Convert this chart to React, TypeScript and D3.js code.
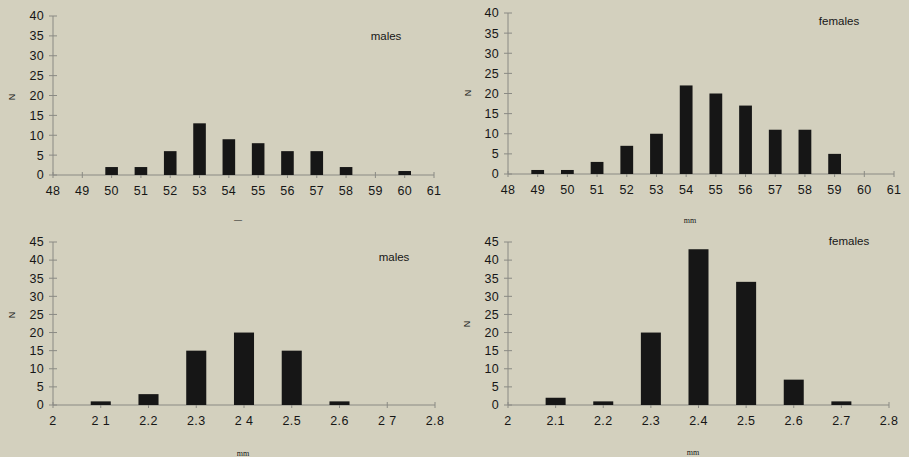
import * as d3 from 'd3';

// forearm length (mm) histograms
const lenTicks = [48, 49, 50, 51, 52, 53, 54, 55, 56, 57, 58, 59, 60, 61];
const lenMalesX = [50, 51, 52, 53, 54, 55, 56, 57, 58, 60];
const lenMalesN = [2, 2, 6, 13, 9, 8, 6, 6, 2, 1];
const lenFemalesX = [49, 50, 51, 52, 53, 54, 55, 56, 57, 58, 59];
const lenFemalesN = [1, 1, 3, 7, 10, 22, 20, 17, 11, 11, 5];

// second measurement (mm)
const smallTicks = [2, 2.1, 2.2, 2.3, 2.4, 2.5, 2.6, 2.7, 2.8];
const smallTickLabels = ['2', '2 1', '2.2', '2.3', '2 4', '2.5', '2.6', '2 7', '2.8'];
const smallTickLabelsF = ['2', '2.1', '2.2', '2.3', '2.4', '2.5', '2.6', '2.7', '2.8'];
const smallMalesX = [2.1, 2.2, 2.3, 2.4, 2.5, 2.6];
const smallMalesN = [1, 3, 15, 20, 15, 1];
const smallFemalesX = [2.1, 2.2, 2.3, 2.4, 2.5, 2.6, 2.7];
const smallFemalesN = [2, 1, 20, 43, 34, 7, 1];

const BG = '#d3d0be';
const INK = '#161616';
const AXIS = '#8a8a84';

type PanelProps = {
  x0: number; x1: number; y0: number; y1: number;
  xDomain: [number, number]; yMax: number; yStep: number;
  ticks: number[]; tickLabels: string[];
  xs: number[]; ns: number[]; barFrac: number;
  title: string; titleX: number; titleY: number;
  nX: number; nY: number; xLabel: string; xLabelX: number; xLabelY: number;
};

function Panel(p: PanelProps) {
  const x = d3.scaleLinear().domain(p.xDomain).range([p.x0, p.x1]);
  const y = d3.scaleLinear().domain([0, p.yMax]).range([p.y0, p.y1]);
  const unit = x(p.ticks[1]) - x(p.ticks[0]);
  const bw = unit * p.barFrac;
  const yTicks = d3.range(0, p.yMax + 0.001, p.yStep);
  return (
    <g fontFamily="'Liberation Sans', Arial, sans-serif">
      <line x1={p.x0} x2={p.x0} y1={y(0)} y2={y(p.yMax)} stroke={AXIS} strokeWidth={1} />
      <line x1={p.x0} x2={p.x1} y1={y(0)} y2={y(0)} stroke={AXIS} strokeWidth={1} />
      {yTicks.map(t => (
        <g key={'y' + t}>
          <line x1={p.x0 - 4} x2={p.x0 + 4} y1={y(t)} y2={y(t)} stroke={AXIS} />
          <text x={p.x0 - 9} y={y(t)} dy="0.35em" textAnchor="end" fontSize={12.5} letterSpacing={0.3} fill={INK}>{t}</text>
        </g>
      ))}
      {p.ticks.map((t, i) => (
        <g key={'x' + t}>
          <line x1={x(t)} x2={x(t)} y1={y(0) - 3} y2={y(0) + 3} stroke={AXIS} />
          <text x={x(t)} y={y(0) + 20} textAnchor="middle" fontSize={12.5} letterSpacing={0.3} fill={INK}>{p.tickLabels[i]}</text>
        </g>
      ))}
      {p.xs.map((v, i) => (
        <rect key={'b' + v} x={x(v) - bw / 2} y={y(p.ns[i])} width={bw} height={y(0) - y(p.ns[i])} fill={INK} />
      ))}
      <text x={p.titleX} y={p.titleY} textAnchor="middle" fontSize={11.5} fill={INK}>{p.title}</text>
      <text transform={`translate(${p.nX},${p.nY}) rotate(-90)`} textAnchor="middle" fontSize={9} fill={INK}>N</text>
      <text x={p.xLabelX} y={p.xLabelY} textAnchor="middle" fontSize={8} fontFamily="'Liberation Serif', serif" fill={INK}>{p.xLabel}</text>
    </g>
  );
}

export default function App() {
  const lenLabels = lenTicks.map(String);
  return (
    <svg width={909} height={457} style={{ position: 'absolute', left: 0, top: 0, background: BG }}>
      <rect width={909} height={457} fill={BG} />
      <Panel x0={53} x1={434} y0={175} y1={16} xDomain={[48, 61]} yMax={40} yStep={5}
        ticks={lenTicks} tickLabels={lenLabels} xs={lenMalesX} ns={lenMalesN} barFrac={0.43}
        title="males" titleX={386} titleY={40} nX={15} nY={97} xLabel="—" xLabelX={238} xLabelY={222} />
      <Panel x0={508} x1={894} y0={174} y1={13} xDomain={[48, 61]} yMax={40} yStep={5}
        ticks={lenTicks} tickLabels={lenLabels} xs={lenFemalesX} ns={lenFemalesN} barFrac={0.43}
        title="females" titleX={839} titleY={25} nX={471} nY={93} xLabel="mm" xLabelX={690} xLabelY={223} />
      <Panel x0={53} x1={435} y0={405} y1={242} xDomain={[2, 2.8]} yMax={45} yStep={5}
        ticks={smallTicks} tickLabels={smallTickLabels} xs={smallMalesX} ns={smallMalesN} barFrac={0.42}
        title="males" titleX={394} titleY={261} nX={15} nY={315} xLabel="mm" xLabelX={243} xLabelY={456} />
      <Panel x0={508} x1={889} y0={405} y1={242} xDomain={[2, 2.8]} yMax={45} yStep={5}
        ticks={smallTicks} tickLabels={smallTickLabelsF} xs={smallFemalesX} ns={smallFemalesN} barFrac={0.42}
        title="females" titleX={849} titleY={245} nX={470} nY={324} xLabel="mm" xLabelX={693} xLabelY={455} />
    </svg>
  );
}
